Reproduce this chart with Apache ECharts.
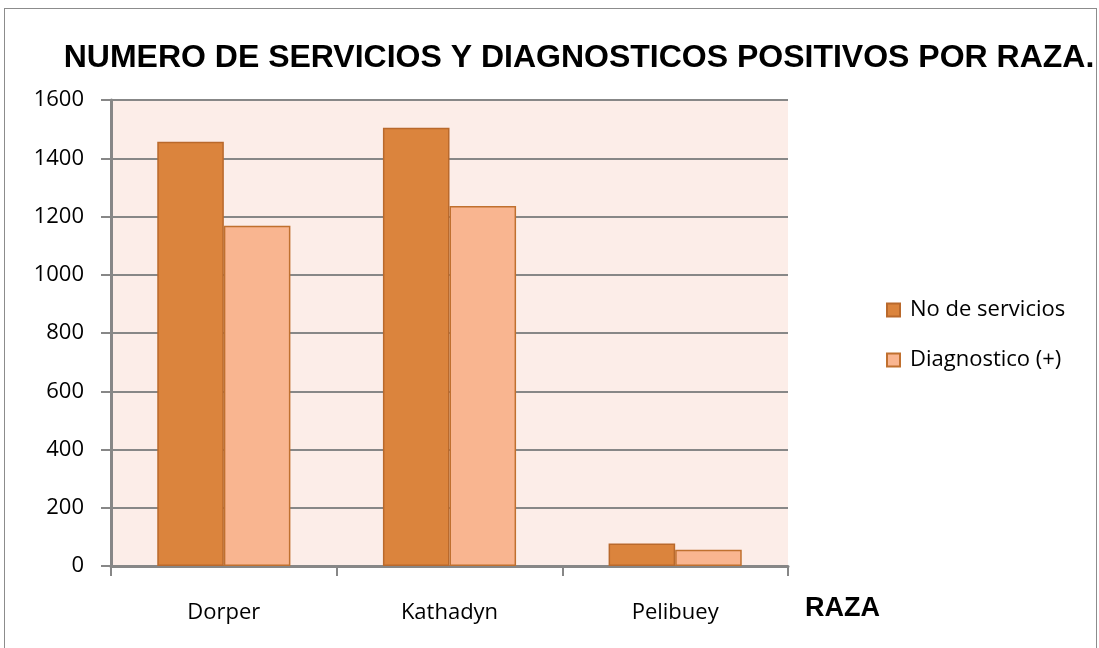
<!DOCTYPE html>
<html>
<head>
<meta charset="utf-8" />
<title>Servicios por raza</title>
<script src="https://cdn.jsdelivr.net/npm/echarts@6/dist/echarts.min.js"></script>
<style>
  html, body { margin: 0; padding: 0; background: #fff; }
  #main { width: 1099px; height: 648px; }
  #frame { position: absolute; left: 4px; top: 8px; width: 1091px; height: 650px; border: 1.5px solid #8c8c8c; pointer-events: none; }
</style>
</head>
<body>
<div id="main"></div>
<div id="frame"></div>
<script>
    var razas = ['Dorper', 'Kathadyn', 'Pelibuey'];
    var servicios = [1457, 1505, 77];
    var diagnostico = [1168, 1236, 56];
    var yTicks = [0, 200, 400, 600, 800, 1000, 1200, 1400, 1600];

    var myChart = echarts.init(document.getElementById('main'));

    var option = {
        animation: false,
        title: [{
            text: 'NUMERO DE SERVICIOS Y DIAGNOSTICOS POSITIVOS POR RAZA.',
            left: 574,
            textAlign: 'center',
            top: 37,
            textStyle: {
                fontFamily: 'Liberation Sans',
                fontWeight: 'bold',
                fontSize: 32,
                color: '#000'
            }
        }, {
            text: 'RAZA',
            left: 800,
            top: 590,
            textStyle: {
                fontFamily: 'Liberation Sans',
                fontWeight: 'bold',
                fontSize: 27,
                color: '#000'
            }
        }],
        legend: {
            orient: 'vertical',
            left: 881,
            top: 294,
            icon: 'rect',
            itemWidth: 13,
            itemHeight: 13,
            itemGap: 28,
            textStyle: {
                fontFamily: 'Open Sans',
                fontSize: 22,
                color: '#000',
                padding: [0, 0, 0, 5]
            },
            data: ['No de servicios', 'Diagnostico (+)']
        },
        grid: {
            left: 111,
            right: 311,
            top: 100,
            bottom: 82,
            show: true,
            backgroundColor: '#fcede8',
            borderWidth: 0
        },
        xAxis: {
            type: 'category',
            data: razas,
            axisLine: { lineStyle: { color: '#878787', width: 3 } },
            axisTick: { show: true, length: 10, lineStyle: { color: '#878787', width: 2 } },
            axisLabel: {
                margin: 36,
                fontFamily: 'Open Sans',
                fontSize: 22,
                color: '#000'
            }
        },
        yAxis: {
            type: 'value',
            min: yTicks[0],
            max: yTicks[yTicks.length - 1],
            interval: 200,
            axisLine: { show: true, lineStyle: { color: '#878787', width: 3 } },
            axisTick: { show: true, length: 10, lineStyle: { color: '#878787', width: 2 } },
            splitLine: { lineStyle: { color: '#878787', width: 2 } },
            axisLabel: {
                margin: 27,
                fontFamily: 'Open Sans',
                fontSize: 22,
                color: '#000',
                padding: [4, 0, 0, 0],
                formatter: function (v) { return String(v); }
            }
        },
        series: [{
            name: 'No de servicios',
            type: 'bar',
            data: servicios,
            barGap: '0%',
            barCategoryGap: '41%',
            itemStyle: {
                color: '#db843d',
                borderColor: '#b9692c',
                borderWidth: 1.5
            }
        }, {
            name: 'Diagnostico (+)',
            type: 'bar',
            data: diagnostico,
            itemStyle: {
                color: '#f9b590',
                borderColor: '#c0702f',
                borderWidth: 1.5
            }
        }]
    };

    myChart.setOption(option);
</script>
</body>
</html>
